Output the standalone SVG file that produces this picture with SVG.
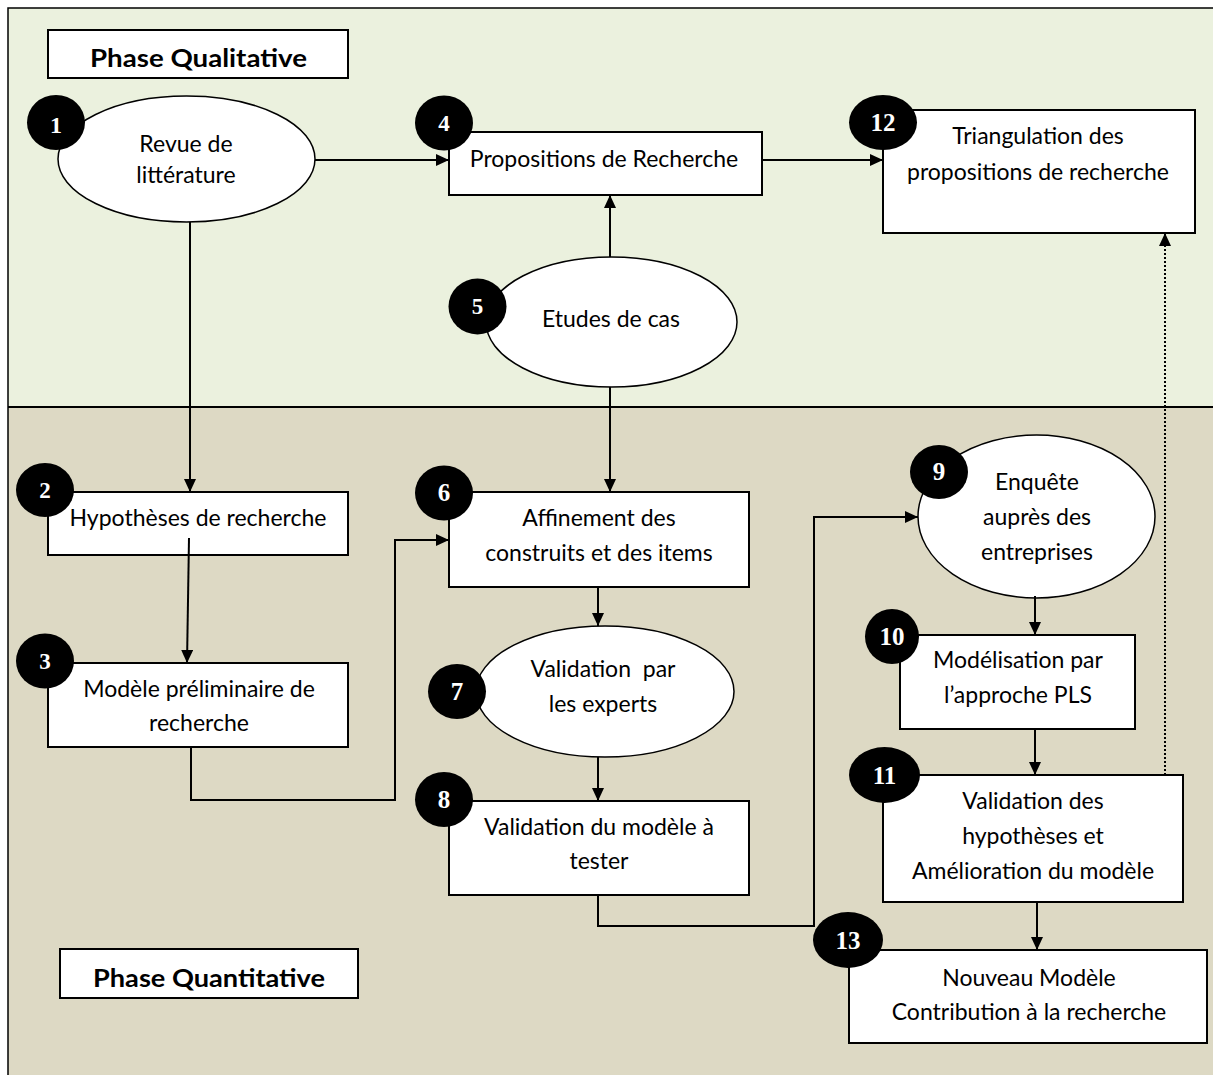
<svg xmlns="http://www.w3.org/2000/svg" width="1213" height="1075" viewBox="0 0 1213 1075">
  <style>
    .box { fill: #ffffff; stroke: #000000; stroke-width: 2; }
    .ell { fill: #ffffff; stroke: #000000; stroke-width: 1.5; }
    .badge { fill: #000000; }
    .num { font-family: "Liberation Serif", "Times New Roman", serif; font-weight: bold; fill: #ffffff; text-anchor: middle; }
    .lbl { font-family: Lato, "Liberation Sans", sans-serif; font-size: 23px; fill: #000000; text-anchor: middle; }
    .phase { font-family: Lato, "Liberation Sans", sans-serif; font-size: 25px; font-weight: bold; fill: #000000; text-anchor: middle; }
    .conn { fill: none; stroke: #000000; stroke-width: 2; }
    .dot { fill: none; stroke: #000000; stroke-width: 2; stroke-dasharray: 2 2; }
  </style>
  <defs>
    <marker id="arrow" viewBox="0 0 13 12" refX="13" refY="6" markerWidth="13" markerHeight="12" markerUnits="userSpaceOnUse" orient="auto">
      <path d="M0,0 L13,6 L0,12 Z" fill="#000000"/>
    </marker>
  </defs>

  <!-- phase backgrounds -->
  <g id="background">
    <rect x="8" y="8" width="1210" height="399" fill="#EBF1DE"/>
    <rect x="8" y="407" width="1210" height="675" fill="#DDD9C4"/>
    <path d="M1213,8 H8 V1080" fill="none" stroke="#000000" stroke-width="1.5"/>
    <line x1="8" y1="407" x2="1213" y2="407" stroke="#000000" stroke-width="2"/>
  </g>

  <g id="phase-qualitative">
    <rect class="box" x="48" y="30" width="300" height="48"/>
    <text class="phase" x="198.5" y="67" textLength="217" lengthAdjust="spacingAndGlyphs">Phase Qualitative</text>
  </g>

  <g id="phase-quantitative">
    <rect class="box" x="60" y="949" width="298" height="49"/>
    <text class="phase" x="209" y="987" textLength="232" lengthAdjust="spacingAndGlyphs">Phase Quantitative</text>
  </g>

  <g id="n1">
    <ellipse class="ell" cx="186.5" cy="159" rx="128.5" ry="63"/>
    <text class="lbl" x="186" y="152">Revue de</text>
    <text class="lbl" x="186" y="183">littérature</text>
    <ellipse class="badge" cx="56" cy="122.5" rx="29" ry="27.5"/>
    <text class="num" x="56" y="133" font-size="24">1</text>
  </g>

  <g id="n2">
    <rect class="box" x="48" y="492" width="300" height="63"/>
    <text class="lbl" x="198" y="526">Hypothèses de recherche</text>
    <ellipse class="badge" cx="45" cy="490" rx="29" ry="27"/>
    <text class="num" x="45" y="498" font-size="23">2</text>
  </g>

  <g id="n3">
    <rect class="box" x="48" y="663" width="300" height="84"/>
    <text class="lbl" x="199" y="697">Modèle préliminaire de</text>
    <text class="lbl" x="199" y="731">recherche</text>
    <ellipse class="badge" cx="45" cy="661" rx="29" ry="27.5"/>
    <text class="num" x="45" y="669" font-size="23">3</text>
  </g>

  <g id="n4">
    <rect class="box" x="449" y="132" width="313" height="63"/>
    <text class="lbl" x="604" y="167">Propositions de Recherche</text>
    <ellipse class="badge" cx="444" cy="123" rx="29" ry="27.5"/>
    <text class="num" x="444" y="131" font-size="23">4</text>
  </g>

  <g id="n5">
    <ellipse class="ell" cx="611.5" cy="322" rx="125.5" ry="65"/>
    <text class="lbl" x="611" y="327">Etudes de cas</text>
    <ellipse class="badge" cx="477.5" cy="306.5" rx="29" ry="28"/>
    <text class="num" x="477.5" y="314" font-size="23">5</text>
  </g>

  <g id="n6">
    <rect class="box" x="449" y="492" width="300" height="95"/>
    <text class="lbl" x="599" y="526">Affinement des</text>
    <text class="lbl" x="599" y="561">construits et des items</text>
    <ellipse class="badge" cx="444" cy="493" rx="29" ry="27.5"/>
    <text class="num" x="444" y="501" font-size="25">6</text>
  </g>

  <g id="n7">
    <ellipse class="ell" cx="605" cy="691.5" rx="129" ry="65.5"/>
    <text class="lbl" x="603" y="677" xml:space="preserve">Validation  par</text>
    <text class="lbl" x="603" y="712">les experts</text>
    <ellipse class="badge" cx="457" cy="691.5" rx="29" ry="27.5"/>
    <text class="num" x="457" y="700" font-size="25">7</text>
  </g>

  <g id="n8">
    <rect class="box" x="449" y="801" width="300" height="94"/>
    <text class="lbl" x="599" y="835">Validation du modèle à</text>
    <text class="lbl" x="599" y="869">tester</text>
    <ellipse class="badge" cx="444" cy="799.5" rx="29" ry="27.5"/>
    <text class="num" x="444" y="808" font-size="25">8</text>
  </g>

  <g id="n9">
    <ellipse class="ell" cx="1036.5" cy="516.5" rx="118.5" ry="81.5"/>
    <text class="lbl" x="1037" y="490">Enquête</text>
    <text class="lbl" x="1037" y="525">auprès des</text>
    <text class="lbl" x="1037" y="560">entreprises</text>
    <ellipse class="badge" cx="939" cy="472" rx="29" ry="27"/>
    <text class="num" x="939" y="480" font-size="25">9</text>
  </g>

  <g id="n10">
    <rect class="box" x="900" y="635" width="235" height="94"/>
    <text class="lbl" x="1018" y="668">Modélisation par</text>
    <text class="lbl" x="1018" y="703">l’approche PLS</text>
    <ellipse class="badge" cx="892" cy="636.5" rx="27" ry="27.5"/>
    <text class="num" x="892" y="645" font-size="25">10</text>
  </g>

  <g id="n11">
    <rect class="box" x="883" y="775" width="300" height="127"/>
    <text class="lbl" x="1033" y="809">Validation des</text>
    <text class="lbl" x="1033" y="844">hypothèses et</text>
    <text class="lbl" x="1033" y="879">Amélioration du modèle</text>
    <ellipse class="badge" cx="884.5" cy="775" rx="35.5" ry="28"/>
    <text class="num" x="884.5" y="784" font-size="25">11</text>
  </g>

  <g id="n12">
    <rect class="box" x="883" y="110" width="312" height="123"/>
    <text class="lbl" x="1038" y="144">Triangulation des</text>
    <text class="lbl" x="1038" y="180">propositions de recherche</text>
    <ellipse class="badge" cx="883" cy="122.5" rx="34" ry="27.5"/>
    <text class="num" x="883" y="131" font-size="25">12</text>
  </g>

  <g id="n13">
    <rect class="box" x="849" y="950" width="358" height="93"/>
    <text class="lbl" x="1029" y="986">Nouveau Modèle</text>
    <text class="lbl" x="1029" y="1020">Contribution à la recherche</text>
    <ellipse class="badge" cx="848" cy="940" rx="35" ry="28"/>
    <text class="num" x="848" y="949" font-size="25">13</text>
  </g>

  <g id="connectors">
    <line class="conn" x1="315" y1="160" x2="449" y2="160" marker-end="url(#arrow)"/>
    <line class="conn" x1="762" y1="160" x2="883" y2="160" marker-end="url(#arrow)"/>
    <line class="conn" x1="610" y1="257" x2="610" y2="195" marker-end="url(#arrow)"/>
    <line class="conn" x1="190" y1="222" x2="190" y2="492" marker-end="url(#arrow)"/>
    <line class="conn" x1="610" y1="387" x2="610" y2="492" marker-end="url(#arrow)"/>
    <line class="conn" x1="189" y1="538" x2="187" y2="663" marker-end="url(#arrow)"/>
    <polyline class="conn" points="191,747 191,800 395,800 395,540 449,540" marker-end="url(#arrow)"/>
    <line class="conn" x1="598" y1="587" x2="598" y2="626" marker-end="url(#arrow)"/>
    <line class="conn" x1="598" y1="757" x2="598" y2="801" marker-end="url(#arrow)"/>
    <polyline class="conn" points="598,895 598,926 814,926 814,517 918,517" marker-end="url(#arrow)"/>
    <line class="conn" x1="1035" y1="596" x2="1035" y2="635" marker-end="url(#arrow)"/>
    <line class="conn" x1="1035" y1="729" x2="1035" y2="775" marker-end="url(#arrow)"/>
    <line class="conn" x1="1037" y1="902" x2="1037" y2="950" marker-end="url(#arrow)"/>
    <line class="dot" x1="1165" y1="775" x2="1165" y2="233" marker-end="url(#arrow)"/>
  </g>
</svg>
